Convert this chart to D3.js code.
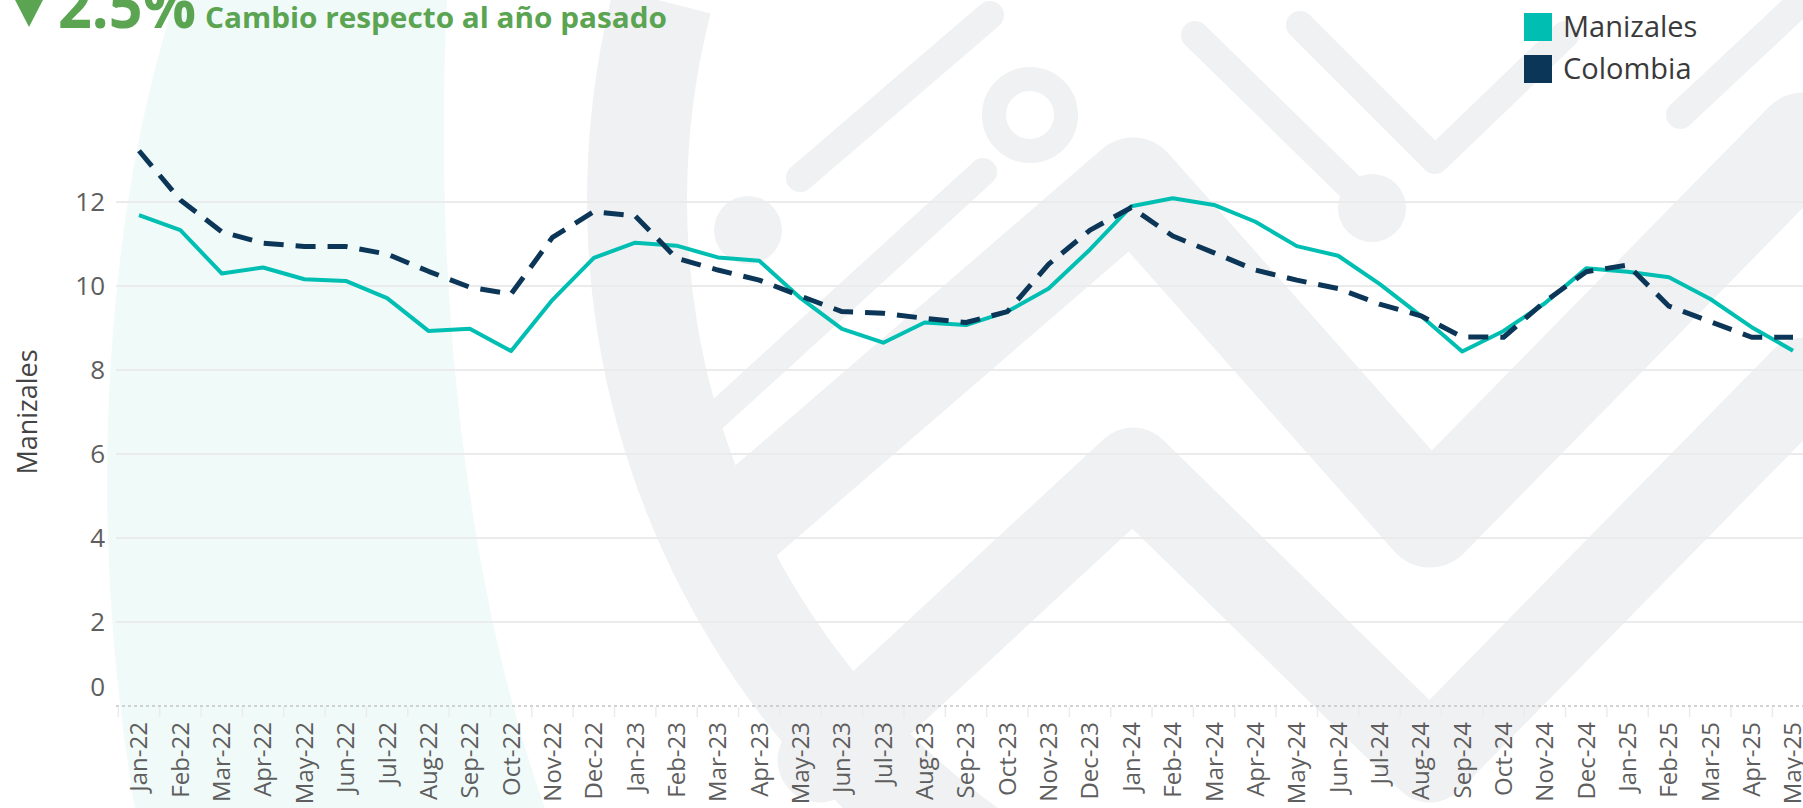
<!DOCTYPE html>
<html>
<head>
<meta charset="utf-8">
<script src="https://cdn.jsdelivr.net/npm/d3@7/dist/d3.min.js"></script>
<style>
  html, body { margin: 0; padding: 0; background: #fff; }
  svg { display: block; font-family: "Open Sans", sans-serif; }
</style>
</head>
<body>
<div id="chart"></div>
<script>
// monthly labels (x axis categories)
var months = ["Jan-22","Feb-22","Mar-22","Apr-22","May-22","Jun-22","Jul-22","Aug-22","Sep-22","Oct-22","Nov-22","Dec-22",
  "Jan-23","Feb-23","Mar-23","Apr-23","May-23","Jun-23","Jul-23","Aug-23","Sep-23","Oct-23","Nov-23","Dec-23",
  "Jan-24","Feb-24","Mar-24","Apr-24","May-24","Jun-24","Jul-24","Aug-24","Sep-24","Oct-24","Nov-24","Dec-24",
  "Jan-25","Feb-25","Mar-25","Apr-25","May-25"];

// series values
var manizales = [11.69, 11.33, 10.30, 10.44, 10.16, 10.12, 9.71, 8.93, 8.98, 8.45, 9.67, 10.67,
  11.03, 10.96, 10.68, 10.60, 9.71, 8.98, 8.65, 9.13, 9.07, 9.39, 9.94, 10.87,
  11.90, 12.09, 11.93, 11.53, 10.95, 10.72, 10.05, 9.29, 8.44, 8.93, 9.59, 10.42,
  10.34, 10.21, 9.69, 9.02, 8.46];

var colombia = [13.22, 12.05, 11.29, 11.02, 10.94, 10.94, 10.76, 10.35, 9.97, 9.81, 11.16, 11.77,
  11.67, 10.66, 10.38, 10.14, 9.76, 9.39, 9.35, 9.23, 9.13, 9.39, 10.52, 11.33,
  11.87, 11.19, 10.79, 10.38, 10.14, 9.94, 9.57, 9.29, 8.79, 8.78, 9.63, 10.34,
  10.50, 9.52, 9.15, 8.78, 8.78];

var yTicks = [0, 2, 4, 6, 8, 10, 12];
var seriesNames = ["Manizales", "Colombia"];
var seriesColors = ["#00bfb2", "#0c3657"];

var headline = "2.5%";
var headlineText = "Cambio respecto al año pasado";
var yTitle = "Manizales";

var width = 1803, height = 808;

var svg = d3.select("#chart").append("svg")
  .attr("width", width)
  .attr("height", height);

// ---- background watermark (logo shapes) ----
var bg = svg.append("g").attr("class", "watermark");

bg.append("path")
  .attr("d", "M175,0 C110,200 82,500 135,808 L545,808 C470,600 432,300 447,0 Z")
  .attr("fill", "#f0faf9");

var grey = "#f0f1f3";

// big arc (left side of the logo ring)
bg.append("path")
  .attr("d", d3.arc()({innerRadius: 750, outerRadius: 850, startAngle: -Math.PI * 0.42, endAngle: -Math.PI * 0.95}))
  .attr("transform", "translate(1437,200)")
  .attr("fill", grey);

// thick chevron
bg.append("path")
  .attr("d", "M745,520 L1133,185 L1430,520 L1803,140")
  .attr("fill", "none").attr("stroke", grey)
  .attr("stroke-width", 95).attr("stroke-linejoin", "round").attr("stroke-linecap", "round");

bg.append("path")
  .attr("d", "M820,760 L1133,470 L1430,760 L1803,380")
  .attr("fill", "none").attr("stroke", grey)
  .attr("stroke-width", 85).attr("stroke-linejoin", "round").attr("stroke-linecap", "round");

// thin lines
var thin = [
  [[800, 178], [990, 15]],
  [[983, 172], [700, 430]],
  [[1195, 35], [1372, 208]],
  [[1300, 25], [1435, 160], [1565, 35]],
  [[1680, 115], [1803, 0]]
];
thin.forEach(function(pts) {
  bg.append("path")
    .attr("d", d3.line()(pts))
    .attr("fill", "none").attr("stroke", grey)
    .attr("stroke-width", 28).attr("stroke-linecap", "round").attr("stroke-linejoin", "round");
});

bg.append("circle").attr("cx", 1030).attr("cy", 115).attr("r", 36)
  .attr("fill", "none").attr("stroke", grey).attr("stroke-width", 24);
bg.append("circle").attr("cx", 748).attr("cy", 230).attr("r", 34).attr("fill", grey);
bg.append("circle").attr("cx", 1372).attr("cy", 208).attr("r", 34).attr("fill", grey);

// ---- scales ----
var step = 41.35;
var x = d3.scalePoint()
  .domain(months)
  .range([139, 139 + step * (months.length - 1)]);

var y = d3.scaleLinear()
  .domain([0, 12])
  .range([706, 202]);

var plotLeft = 116;

// grid lines
svg.append("g").selectAll("line")
  .data(yTicks.filter(function(d) { return d > 0; }))
  .enter().append("line")
  .attr("x1", plotLeft).attr("x2", width)
  .attr("y1", function(d) { return y(d); })
  .attr("y2", function(d) { return y(d); })
  .attr("stroke", "#ebebeb")
  .attr("stroke-width", 2);

// zero line (dotted)
svg.append("line")
  .attr("x1", plotLeft).attr("x2", width)
  .attr("y1", y(0)).attr("y2", y(0))
  .attr("stroke", "#c4c4c4")
  .attr("stroke-width", 1.5)
  .attr("stroke-dasharray", "3,3");

// x ticks on category boundaries
svg.append("g").selectAll("line")
  .data(months)
  .enter().append("line")
  .attr("x1", function(d) { return x(d) - step / 2; })
  .attr("x2", function(d) { return x(d) - step / 2; })
  .attr("y1", y(0) + 1).attr("y2", y(0) + 11)
  .attr("stroke", "#ececec")
  .attr("stroke-width", 1.5);

// y tick labels
svg.append("g").selectAll("text")
  .data(yTicks)
  .enter().append("text")
  .attr("x", 105)
  .attr("y", function(d) { return d === 0 ? y(d) - 19 : y(d); })
  .attr("dy", "0.35em")
  .attr("text-anchor", "end")
  .attr("fill", "#5e5e5e")
  .style("font-size", "26px")
  .text(function(d) { return d; });

// x tick labels (rotated)
svg.append("g").selectAll("text")
  .data(months)
  .enter().append("text")
  .attr("transform", function(d) { return "translate(" + x(d) + "," + 722 + ")rotate(-90)"; })
  .attr("dy", "0.35em")
  .attr("text-anchor", "end")
  .attr("fill", "#5e5e5e")
  .style("font-size", "24px")
  .text(function(d) { return d; });

// y axis title
svg.append("text")
  .attr("transform", "translate(28,412)rotate(-90)")
  .attr("dy", "0.35em")
  .attr("text-anchor", "middle")
  .attr("fill", "#444")
  .style("font-size", "27px")
  .text(yTitle);

// ---- lines ----
var line = d3.line()
  .x(function(d, i) { return x(months[i]); })
  .y(function(d) { return y(d); });

svg.append("path")
  .datum(manizales)
  .attr("d", line)
  .attr("fill", "none")
  .attr("stroke", seriesColors[0])
  .attr("stroke-width", 4)
  .attr("stroke-linejoin", "round");

svg.append("path")
  .datum(colombia)
  .attr("d", line)
  .attr("fill", "none")
  .attr("stroke", seriesColors[1])
  .attr("stroke-width", 5)
  .attr("stroke-dasharray", "20,12")
  .attr("stroke-linejoin", "round");

// ---- legend ----
var legend = svg.append("g").attr("transform", "translate(1524,13)");
seriesNames.forEach(function(name, i) {
  legend.append("rect")
    .attr("x", 0).attr("y", i * 42)
    .attr("width", 28).attr("height", 28)
    .attr("fill", seriesColors[i]);
  legend.append("text")
    .attr("x", 39).attr("y", i * 42 + 14)
    .attr("dy", "0.36em")
    .attr("fill", "#3a3a3a")
    .style("font-size", "29px")
    .text(name);
});

// ---- header ----
var green = "#5aa452";
svg.append("path")
  .attr("d", "M13,-4 L45,-4 L29,27 Z")
  .attr("fill", green);

svg.append("text")
  .attr("x", 58).attr("y", 28)
  .attr("fill", green)
  .style("font-size", "62px")
  .style("font-weight", "bold")
  .attr("textLength", 138)
  .attr("lengthAdjust", "spacingAndGlyphs")
  .text(headline);

svg.append("text")
  .attr("x", 205).attr("y", 28)
  .attr("fill", green)
  .style("font-size", "29px")
  .style("font-weight", "bold")
  .attr("textLength", 462)
  .attr("lengthAdjust", "spacingAndGlyphs")
  .text(headlineText);
</script>
</body>
</html>
